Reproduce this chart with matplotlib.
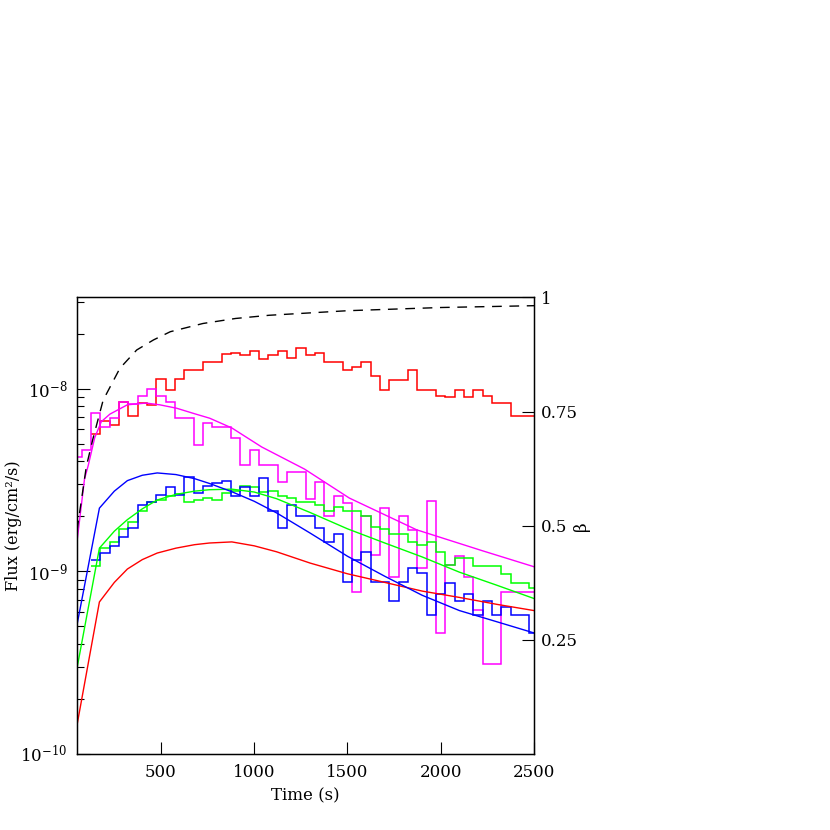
import numpy as np
import matplotlib
matplotlib.use("Agg")
import matplotlib.pyplot as plt

plt.rcParams['font.family'] = ['DejaVu Serif']
plt.rcParams['mathtext.fontset'] = 'dejavuserif'

# histogram bins (50 s wide)
edges_main = np.arange(125, 2526, 50)     # red / blue / green
edges_mag = np.arange(25, 2526, 50)       # magenta starts earlier

red_hist = [5.65e-9, 6.68e-9, 6.3e-9, 8.45e-9, 7.05e-9, 8.35e-9, 8.17e-9, 1.13e-8, 9.9e-9, 1.13e-8,
            1.27e-8, 1.27e-8, 1.41e-8, 1.41e-8, 1.55e-8, 1.57e-8, 1.53e-8, 1.62e-8, 1.46e-8, 1.53e-8,
            1.60e-8, 1.47e-8, 1.68e-8, 1.53e-8, 1.57e-8, 1.41e-8, 1.41e-8, 1.27e-8, 1.31e-8, 1.41e-8,
            1.18e-8, 9.9e-9, 1.12e-8, 1.12e-8, 1.27e-8, 9.9e-9, 9.9e-9, 9.08e-9, 8.97e-9, 9.85e-9,
            8.97e-9, 9.85e-9, 9.08e-9, 8.4e-9, 8.4e-9, 7.05e-9, 7.05e-9, 7.05e-9]

blue_hist = [1.16e-9, 1.26e-9, 1.38e-9, 1.54e-9, 1.72e-9, 2.31e-9, 2.41e-9, 2.62e-9, 2.89e-9, 2.62e-9,
             3.28e-9, 2.68e-9, 2.92e-9, 3.03e-9, 3.14e-9, 2.6e-9, 2.89e-9, 2.58e-9, 3.24e-9, 2.14e-9,
             1.73e-9, 2.30e-9, 2.01e-9, 2.01e-9, 1.73e-9, 1.44e-9, 1.61e-9, 8.7e-10, 1.155e-9, 1.27e-9,
             8.7e-10, 8.7e-10, 6.9e-10, 8.7e-10, 1.04e-9, 9.77e-10, 5.8e-10, 7.5e-10, 8.6e-10, 6.9e-10,
             7.5e-10, 5.8e-10, 6.9e-10, 5.8e-10, 6.36e-10, 5.8e-10, 5.8e-10, 4.6e-10]

green_hist = [1.07e-9, 1.34e-9, 1.44e-9, 1.70e-9, 1.87e-9, 2.13e-9, 2.41e-9, 2.45e-9, 2.6e-9, 2.66e-9,
              2.41e-9, 2.46e-9, 2.52e-9, 2.46e-9, 2.68e-9, 2.76e-9, 2.94e-9, 2.88e-9, 2.71e-9, 2.76e-9,
              2.60e-9, 2.52e-9, 2.41e-9, 2.41e-9, 2.31e-9, 2.13e-9, 2.25e-9, 2.13e-9, 2.13e-9, 2.0e-9,
              1.76e-9, 1.70e-9, 1.60e-9, 1.60e-9, 1.45e-9, 1.40e-9, 1.45e-9, 1.28e-9, 1.09e-9, 1.18e-9,
              1.18e-9, 1.07e-9, 1.07e-9, 1.07e-9, 9.7e-10, 8.6e-10, 8.6e-10, 8.1e-10]

magenta_hist = [4.22e-9, 4.63e-9,
                7.33e-9, 6.2e-9, 6.9e-9, 8.45e-9, 8.24e-9, 9.18e-9, 1.0e-8, 9.18e-9, 8.5e-9, 6.9e-9,
                6.9e-9, 4.93e-9, 6.5e-9, 6.15e-9, 6.15e-9, 5.4e-9, 3.84e-9, 4.6e-9, 3.84e-9, 3.84e-9,
                3.07e-9, 3.52e-9, 3.52e-9, 2.5e-9, 3.07e-9, 2.01e-9, 2.6e-9, 2.38e-9, 7.7e-10, 2.0e-9,
                1.23e-9, 2.22e-9, 9.3e-10, 2.0e-9, 1.69e-9, 1.04e-9, 2.44e-9, 4.6e-10, 1.08e-9, 1.22e-9,
                9.3e-10, 6.15e-10, 3.1e-10, 3.1e-10, 7.7e-10, 7.7e-10, 7.7e-10, 7.7e-10]

# model curves
t_model = [50, 170, 250, 320, 400, 480, 580, 680, 760, 880, 1000, 1120, 1300, 1500, 1700, 1900, 2100, 2300, 2500]
red_model = [1.44e-10, 6.8e-10, 8.7e-10, 1.03e-9, 1.16e-9, 1.26e-9, 1.34e-9, 1.40e-9, 1.43e-9, 1.45e-9,
             1.38e-9, 1.28e-9, 1.11e-9, 9.7e-10, 8.7e-10, 7.8e-10, 7.2e-10, 6.6e-10, 6.1e-10]
blue_model = [5.1e-10, 2.22e-9, 2.75e-9, 3.14e-9, 3.36e-9, 3.46e-9, 3.39e-9, 3.22e-9, 3.03e-9, 2.73e-9,
              2.42e-9, 2.09e-9, 1.62e-9, 1.21e-9, 9.4e-10, 7.4e-10, 6.1e-10, 5.3e-10, 4.6e-10]
green_model = [2.95e-10, 1.34e-9, 1.66e-9, 1.92e-9, 2.2e-9, 2.46e-9, 2.64e-9, 2.75e-9, 2.8e-9, 2.82e-9,
               2.72e-9, 2.5e-9, 2.1e-9, 1.71e-9, 1.43e-9, 1.2e-9, 9.9e-10, 8.4e-10, 7.1e-10]

t_mag = [50, 90, 110, 145, 180, 226, 320, 420, 493, 583, 680, 761, 880, 1040, 1270, 1510, 1870, 2220, 2500]
magenta_model = [1.46e-9, 3.2e-9, 3.8e-9, 5.4e-9, 6.6e-9, 7.26e-9, 8.17e-9, 8.35e-9, 8.17e-9, 7.83e-9,
                 7.3e-9, 6.9e-9, 6.1e-9, 4.8e-9, 3.63e-9, 2.52e-9, 1.69e-9, 1.30e-9, 1.06e-9]

# beta (right axis)
t_beta = [50, 75, 100, 135, 190, 280, 370, 460, 550, 725, 900, 1080, 1500, 2000, 2500]
beta = [0.49, 0.56, 0.63, 0.69, 0.775, 0.845, 0.885, 0.907, 0.925, 0.943, 0.954, 0.961, 0.971, 0.978, 0.982]

fig = plt.figure(figsize=(8.3, 8.3), dpi=100)
ax = fig.add_axes([0.0928, 0.0916, 0.5506, 0.55])

lw_h = 1.1
ax.stairs(red_hist, edges_main, baseline=None, color='#ff0000', lw=lw_h)
ax.stairs(magenta_hist, edges_mag, baseline=None, color='#ff00ff', lw=lw_h)
ax.stairs(green_hist, edges_main, baseline=None, color='#00ff00', lw=lw_h)
ax.stairs(blue_hist, edges_main, baseline=None, color='#0000ff', lw=lw_h)

ax.plot(t_model, red_model, color='#ff0000', lw=1.0)
ax.plot(t_model, green_model, color='#00ff00', lw=1.0)
ax.plot(t_model, blue_model, color='#0000ff', lw=1.0)
ax.plot(t_mag, magenta_model, color='#ff00ff', lw=1.0)

ax.set_yscale('log')
ax.set_xlim(50, 2500)
ax.set_ylim(1e-10, 10**-7.5)
ax.set_xticks([500, 1000, 1500, 2000, 2500])
ax.tick_params(which='both', direction='in', right=False, top=False, labelsize=12, width=0.8)
ax.tick_params(which='major', length=9, pad=7)
ax.tick_params(which='minor', length=4.7)
ax.set_xlabel('Time (s)', fontsize=12, labelpad=5)
ax.set_ylabel('Flux (erg/cm²/s)', fontsize=11.5)
ax.yaxis.set_label_coords(-0.12, 0.5)
for s in ax.spines.values():
    s.set_linewidth(1.0)

ax2 = ax.twinx()
ax2.plot(t_beta, beta, color='black', lw=1.0, dashes=(7, 5.5))
ax2.set_ylim(0, 1)
ax2.set_yticks([0.25, 0.5, 0.75, 1])
ax2.set_yticklabels(['0.25', '0.5', '0.75', '1'])
ax2.tick_params(direction='in', length=9, width=0.8, pad=5, labelsize=12)
ax2.set_ylabel('β', fontsize=12)
ax2.yaxis.set_label_coords(1.085, 0.5)

fig.savefig('out.png', dpi=100)
